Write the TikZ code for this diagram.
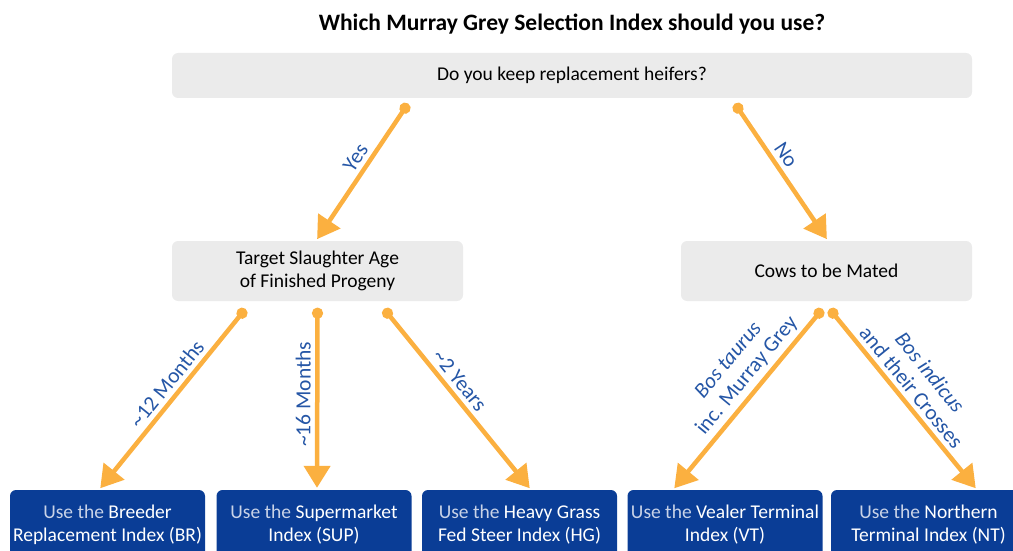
\documentclass[tikz,border=0pt]{standalone}
\usepackage{fontspec}
\setmainfont{Carlito}
\usetikzlibrary{arrows.meta}
\definecolor{boxgrey}{HTML}{EBEBEB}
\definecolor{idxblue}{HTML}{0A3D96}
\definecolor{arrorange}{HTML}{FBB040}
\definecolor{lblblue}{HTML}{2556A6}
\definecolor{uselight}{HTML}{C9D3E8}
\newcommand{\useThe}{\textcolor{uselight}{Use the}}

\begin{document}
\begin{tikzpicture}[x=1pt,y=-1pt,
    question/.style={fill=boxgrey,rounded corners=6pt,align=center,inner sep=0pt,
      font=\fontsize{19.5}{23}\selectfont},
    index/.style={fill=idxblue,rounded corners=6pt,text=white,align=center,inner sep=0pt,
      minimum width=195pt,minimum height=70pt,font=\fontsize{19.5}{23}\selectfont},
    flow/.style={draw=arrorange,line width=4.5pt,
      {Circle[length=11pt]}-{Triangle[length=22pt,width=26pt]},shorten <=-5.5pt,shorten >=2pt},
    lbl/.style={text=lblblue,sloped,above=1pt,pos=#1,align=center,
      font=\fontsize{21.5}{24}\selectfont}]
		\useasboundingbox (0,0) rectangle (1013,551);

		% title
		\node[font=\fontsize{23.5}{28}\selectfont\bfseries] (title) at (572,24) {Which Murray Grey Selection Index should you use?};

		% questions
		\node[question,minimum width=800pt,minimum height=45pt] (q) at (572,75.5) {Do you keep replacement heifers?};
		\node[question,minimum width=291pt,minimum height=60pt] (age) at (317.5,271) {Target Slaughter Age\\of Finished Progeny};
		\node[question,minimum width=291pt,minimum height=60pt] (cows) at (826.5,271) {Cows to be Mated};

		% indexes
		\node[index] (br) at (107.5,525) {\useThe{} Breeder\\Replacement Index (BR)};
		\node[index] (sup) at (314,525) {\useThe{} Supermarket\\Index (SUP)};
		\node[index] (hg) at (519.5,525) {\useThe{} Heavy Grass\\Fed Steer Index (HG)};
		\node[index] (vt) at (725,525) {\useThe{} Vealer Terminal\\Index (VT)};
		\node[index] (nt) at (928.5,525) {\useThe{} Northern\\Terminal Index (NT)};

		% replacement heifers?
		\draw[flow] ([xshift=-167pt,yshift=-10pt]q.south) -- ([xshift=-1.5pt]age.north) node[lbl=0.43]{Yes};
		\draw[flow] ([xshift=166pt,yshift=-10pt]q.south) -- ([xshift=1.5pt]cows.north) node[lbl=0.41]{No};

		% slaughter age
		\draw[flow] ([xshift=-75.5pt,yshift=-12pt]age.south) -- ([xshift=-8.5pt]br.north) node[lbl=0.45]{\textasciitilde12 Months};
		\draw[flow] ([yshift=-12pt]age.south) -- ([xshift=3pt]sup.north) node[lbl=0.46]{\textasciitilde16 Months};
		\draw[flow] ([xshift=70pt,yshift=-12pt]age.south) -- ([xshift=11.5pt]hg.north) node[lbl=0.43]{\textasciitilde2 Years};

		% cows to be mated
		\draw[flow] ([xshift=-7.5pt,yshift=-12pt]cows.south) -- ([xshift=-52pt]vt.north) node[lbl=0.41]{\textit{Bos taurus}\\inc. Murray Grey};
		\draw[flow] ([xshift=6.5pt,yshift=-12pt]cows.south) -- ([xshift=48.5pt]nt.north) node[lbl=0.47]{\textit{Bos indicus}\\and their Crosses};
	\end{tikzpicture}
\end{document}
